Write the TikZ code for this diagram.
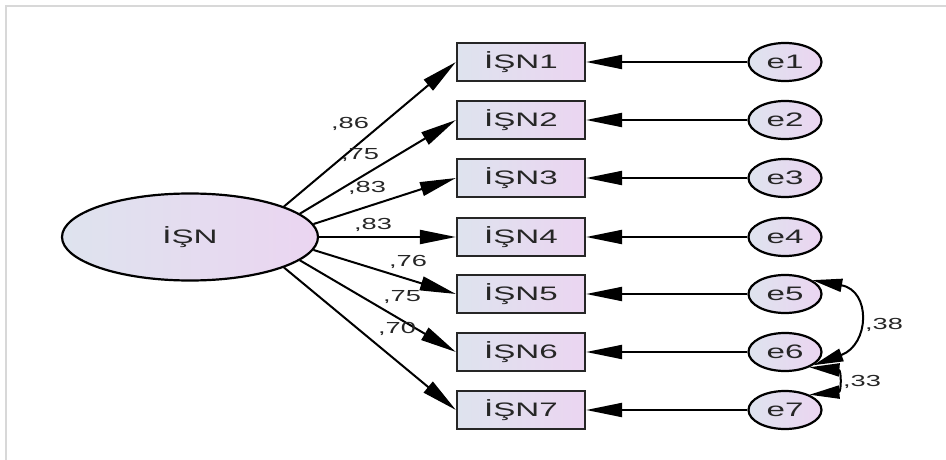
\documentclass[tikz,border=0pt]{standalone}
\usepackage{fontspec}
\setmainfont{Liberation Sans}
\usepackage{tikz}
\usetikzlibrary{arrows.meta,positioning,calc,shapes.geometric}
\definecolor{amosblue}{RGB}{222,227,238}
\definecolor{amospink}{RGB}{235,213,241}
\definecolor{framegray}{RGB}{216,216,216}
\newcommand{\wtxt}[1]{\scalebox{1.7}[1]{#1}}

\begin{document}
\begin{tikzpicture}[x=1pt,y=1pt,
  obs/.style={draw=black!85,line width=2.2pt,left color=amosblue,right color=amospink,minimum width=128pt,minimum height=38pt,inner sep=0pt,text=black!85,font=\fontsize{19.5}{19.5}\selectfont},
  lat/.style={ellipse,draw=black,line width=2.2pt,left color=amosblue,right color=amospink,minimum width=256pt,minimum height=87pt,inner sep=0pt,text=black!85,font=\fontsize{19.5}{19.5}\selectfont},
  err/.style={ellipse,draw=black,line width=2.2pt,left color=amosblue,right color=amospink,minimum width=73pt,minimum height=38pt,inner sep=0pt,text=black!85,font=\fontsize{19.5}{19.5}\selectfont},
  arr/.style={-{Triangle[length=36pt,width=14pt]},line width=2pt},
  cov/.style={{Triangle[length=30pt,width=13pt]}-{Triangle[length=30pt,width=13pt]},line width=2pt},
  lbl/.style={inner sep=0pt,text=black!85,font=\fontsize{16}{16}\selectfont}]
  \useasboundingbox (0,0) rectangle (946,-460);
  \draw[framegray,line width=2pt] (6,-460)--(6,-6)--(946,-6);
  % factor
  \node[lat] (isn) at (190,-237) {\wtxt{İŞN}};
  % items and errors
  \foreach \i/\y in {1/62,2/120,3/178,4/237,5/294,6/352,7/410}{
    \node[obs] (isn\i) at (521,-\y) {\wtxt{İŞN\i}};
    \node[err] (e\i) at (785,-\y) {\wtxt{e\i}};
    \draw[arr] (e\i)--(isn\i);
  }
  \foreach \i/\a in {1/18,2/12,3/6,4/0,5/-6,6/-12,7/-18}
    \draw[arr] (isn.\a)--(isn\i.west);
  % loadings
  \node[lbl] (l1) at (350,-124) {\wtxt{,86}};
  \node[lbl] (l2) at (360,-155) {\wtxt{,75}};
  \node[lbl] (l3) at (367,-188) {\wtxt{,83}};
  \node[lbl] (l4) at (373,-225) {\wtxt{,83}};
  \node[lbl] (l5) at (408,-262) {\wtxt{,76}};
  \node[lbl] (l6) at (402,-297) {\wtxt{,75}};
  \node[lbl] (l7) at (397,-329) {\wtxt{,70}};
  % covariances
  \draw[cov] (e5.27) to[out=-10,in=20,looseness=1.8] (e6.-25);
  \draw[cov] (e6.-32) to[out=-5,in=5,looseness=3] (e7.32);
  \node[lbl] (c56) at (884,-325) {\wtxt{,38}};
  \node[lbl] (c67) at (862,-382) {\wtxt{,33}};
\end{tikzpicture}
\end{document}
